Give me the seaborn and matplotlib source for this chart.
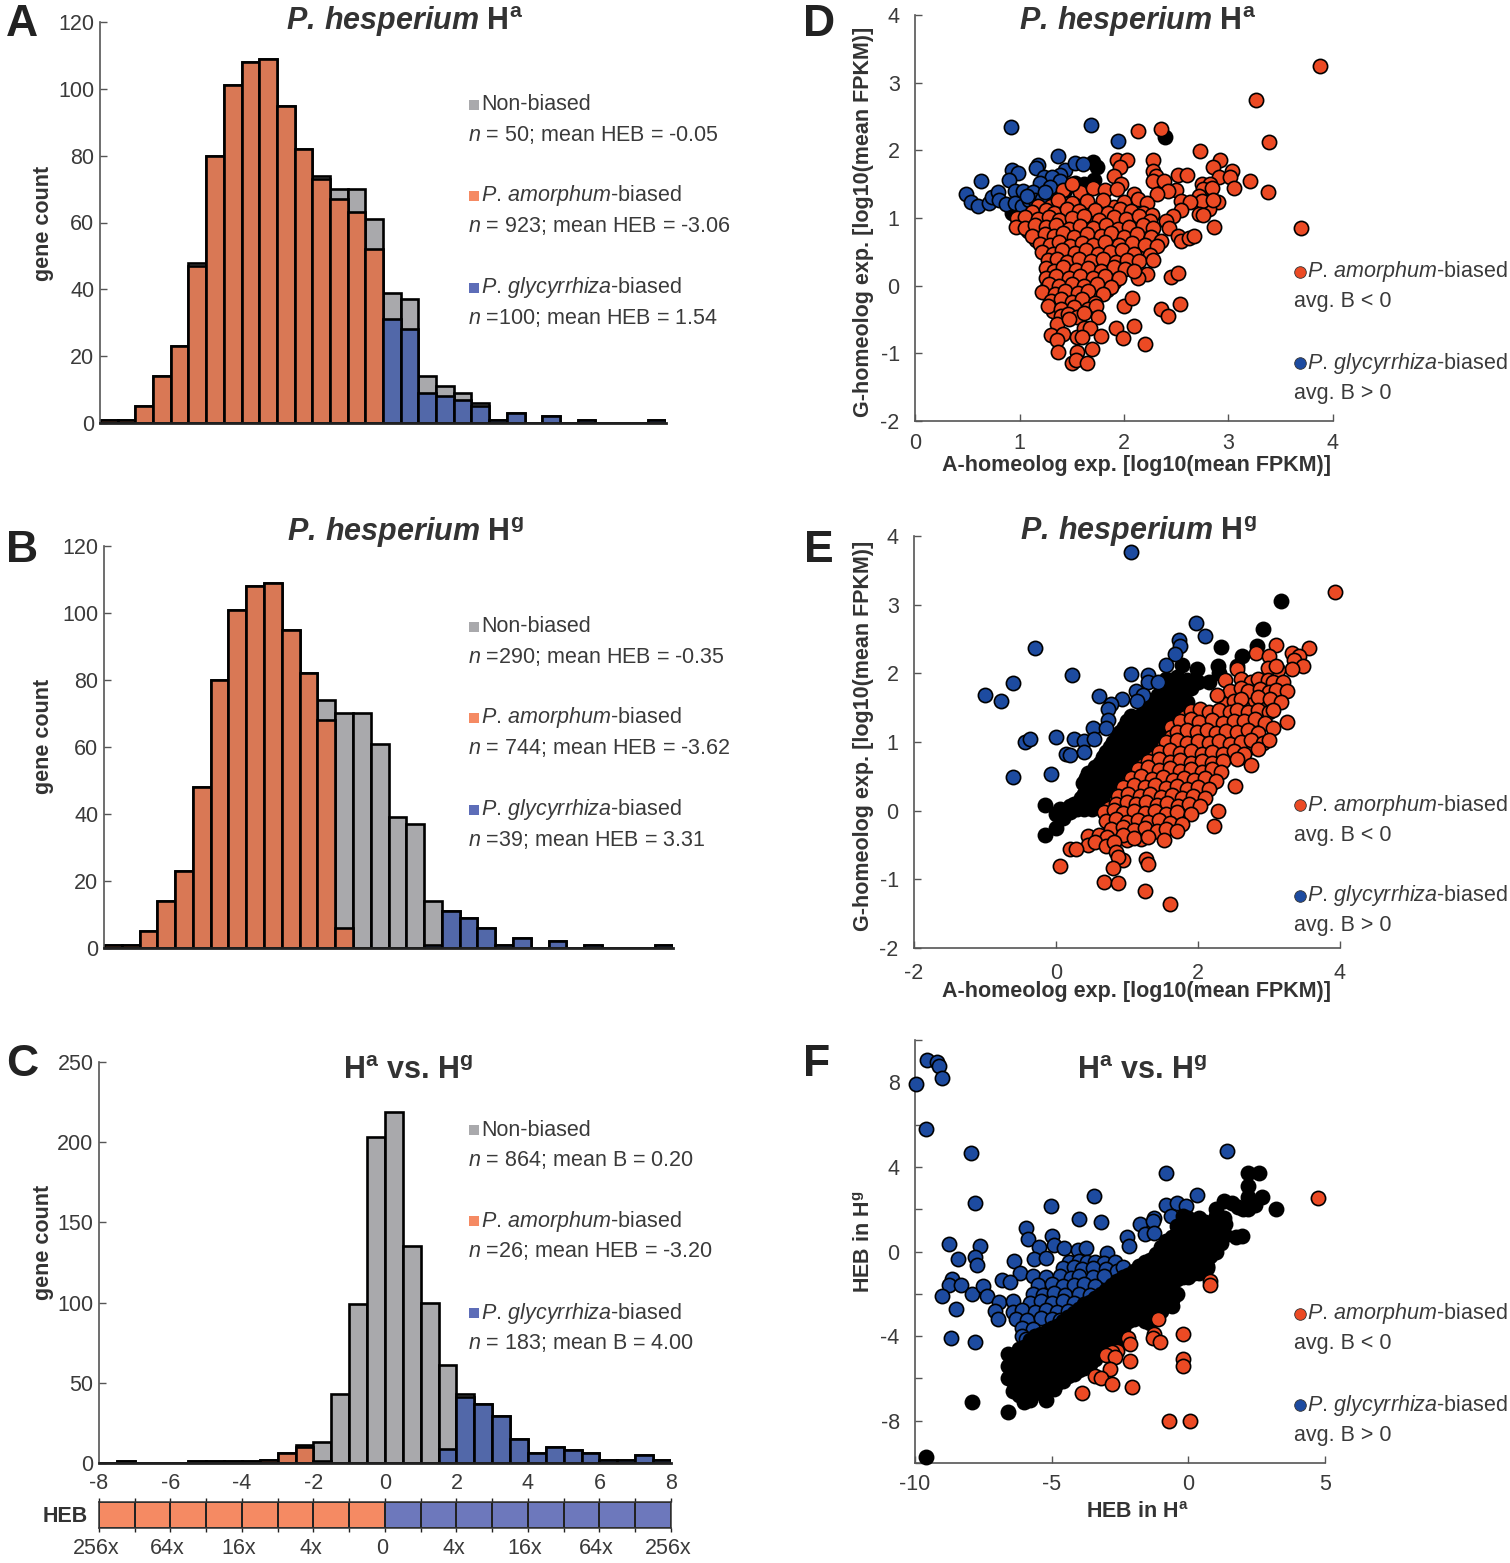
import numpy as np
import matplotlib
matplotlib.use("Agg")
import matplotlib.pyplot as plt
import seaborn as sns

sns.set_theme(style="ticks")
plt.rcParams["font.family"] = ["Liberation Sans", "DejaVu Sans"]
plt.rcParams["mathtext.fontset"] = "custom"
plt.rcParams["mathtext.rm"] = "Liberation Sans"
plt.rcParams["mathtext.it"] = "Liberation Sans:italic"
plt.rcParams["mathtext.bf"] = "Liberation Sans:bold"
plt.rcParams["mathtext.bfit"] = "Liberation Sans:italic:bold"
plt.rcParams["axes.unicode_minus"] = False

W, H = 1510, 1563

# histogram bins, HEB from -8 to 8 in steps of 0.5
bin_edges = [v / 2 for v in range(-16, 17)]
bin_centers = [v / 2 + 0.25 for v in range(-16, 16)]

a_total = [1, 1, 5, 14, 23, 48, 80, 101, 108, 109, 95, 82, 74, 70, 70, 61,
           39, 37, 14, 11, 9, 6, 1, 3, 0, 2, 0, 1, 0, 0, 0, 1]
a_orange = [1, 1, 5, 14, 23, 47, 80, 101, 108, 109, 95, 82, 73, 67, 63, 52,
            0, 0, 0, 0, 0, 0, 0, 0, 0, 0, 0, 0, 0, 0, 0, 0]
a_blue = [0, 0, 0, 0, 0, 0, 0, 0, 0, 0, 0, 0, 0, 0, 0, 0,
          31, 28, 9, 8, 7, 5, 1, 3, 0, 2, 0, 1, 0, 0, 0, 1]

b_total = a_total
b_orange = [1, 1, 5, 14, 23, 48, 80, 101, 108, 109, 95, 82, 68, 6, 0, 0,
            0, 0, 0, 0, 0, 0, 0, 0, 0, 0, 0, 0, 0, 0, 0, 0]
b_blue = [0, 0, 0, 0, 0, 0, 0, 0, 0, 0, 0, 0, 0, 0, 0, 0,
          0, 0, 1, 11, 9, 6, 1, 3, 0, 2, 0, 1, 0, 0, 0, 1]

c_total = [0, 1, 0, 0, 0, 1, 1, 1, 1, 2, 6, 11, 13, 43, 99, 203,
           219, 135, 100, 61, 43, 37, 29, 15, 6, 10, 8, 6, 2, 2, 5, 2]
c_orange = [0, 1, 0, 0, 0, 1, 1, 1, 1, 2, 6, 10, 1, 0, 0, 0,
            0, 0, 0, 0, 0, 0, 0, 0, 0, 0, 0, 0, 0, 0, 0, 0]
c_blue = [0, 0, 0, 0, 0, 0, 0, 0, 0, 0, 0, 0, 0, 0, 0, 0,
          0, 0, 0, 9, 41, 37, 29, 15, 6, 10, 8, 6, 2, 2, 5, 2]

heb_side = [0] * 8 + [1] * 8
heb_labels = ["256x", "64x", "16x", "4x", "0", "4x", "16x", "64x", "256x"]

# panel D
d_blue = [(.92, 2.34), (1.68, 2.37), (1.94, 2.14), (1.37, 1.92), (.93, 1.71), (.99, 1.67), (1.18, 1.79),
          (1.16, 1.74), (.63, 1.54), (.9, 1.56), (1.44, 1.71), (1.53, 1.81), (1.61, 1.8), (1.39, 1.64),
          (1.23, 1.6), (1.31, 1.61), (1.2, 1.52), (1.39, 1.55), (1.29, 1.46), (.49, 1.35), (.54, 1.24),
          (.6, 1.18), (.71, 1.22), (.74, 1.31), (.79, 1.39), (.8, 1.27), (.87, 1.2), (.96, 1.4),
          (1.03, 1.4), (1.13, 1.39), (.96, 1.22), (1.02, 1.17), (1.09, 1.27), (1.15, 1.27), (1.22, 1.28),
          (1.24, 1.39), (1.07, 1.32)]
d_black = [(2.39, 2.2), (1.7, 1.83), (1.74, 1.76), (1.71, 1.56), (1.53, 1.51), (1.44, 1.41), (1.35, 1.41),
           (1.35, 1.32), (.93, 1.07), (1.0, 1.0), (1.62, 1.5)]
d_orange = [(3.88, 3.25), (3.26, 2.74), (3.39, 2.13), (2.35, 2.31), (2.13, 2.29), (2.73, 1.99), (2.92, 1.85),
            (2.85, 1.76), (3.03, 1.69), (2.91, 1.61), (3.01, 1.6), (3.05, 1.44), (3.21, 1.54), (3.38, 1.38),
            (3.69, .85), (2.86, .86), (2.9, 1.24), (2.81, 1.13), (1.93, 1.86), (2.03, 1.86), (1.96, 1.75),
            (2.28, 1.86), (2.28, 1.7), (2.31, 1.62), (1.9, 1.62), (2.52, 1.63), (2.6, 1.63), (2.28, 1.55),
            (2.38, 1.55), (1.97, 1.5), (2.75, 1.5), (2.82, 1.5), (2.76, 1.43), (2.84, 1.45), (2.5, 1.42),
            (2.42, 1.4), (2.32, 1.35), (2.72, 1.33), (2.75, 1.25), (2.85, 1.27), (2.55, 1.25), (2.63, 1.24),
            (2.72, 1.06), (2.76, 1.05), (2.55, 1.12), (2.47, 1.03), (2.4, .95), (2.43, .85), (2.52, .74),
            (2.55, .66), (2.62, .7), (2.67, .73),
            (1.42, 1.41), (1.58, 1.39), (1.7, 1.45), (1.82, 1.42), (1.93, 1.43), (2.1, 1.36), (1.5, 1.5),
            (1.37, 1.27), (1.5, 1.22), (1.65, 1.25), (1.8, 1.27), (2.0, 1.24), (2.13, 1.28), (2.22, 1.22),
            (1.12, 1.09), (1.25, 1.12), (1.33, 1.08), (1.45, 1.13), (1.57, 1.1), (1.72, 1.12), (1.85, 1.08),
            (1.96, 1.14), (2.07, 1.1), (2.18, 1.07), (2.27, 1.05), (.98, 1.0), (1.05, 1.01), (1.18, .98),
            (1.28, 1.02), (1.38, .97), (1.5, 1.0), (1.62, 1.03), (1.76, .97), (1.9, 1.01), (2.02, .98),
            (2.14, 1.03), (2.25, .96), (.97, .87), (1.05, .85), (1.15, .89), (1.25, .86), (1.35, .9),
            (1.47, .84), (1.58, .88), (1.7, .85), (1.83, .9), (1.94, .84), (2.05, .87), (2.18, .89),
            (2.28, .85), (1.12, .73), (1.24, .77), (1.33, .73), (1.42, .78), (1.52, .72), (1.65, .76),
            (1.78, .73), (1.88, .78), (2.0, .72), (2.12, .76), (2.26, .72), (2.35, .66), (1.2, .62),
            (1.29, .6), (1.38, .65), (1.48, .59), (1.6, .63), (1.7, .6), (1.82, .65), (1.95, .6),
            (2.08, .63), (2.2, .6), (2.32, .58), (1.22, .5), (1.32, .47), (1.41, .52), (1.53, .48),
            (1.64, .52), (1.75, .47), (1.87, .5), (1.98, .53), (2.1, .47), (2.25, .46), (1.27, .38),
            (1.36, .4), (1.45, .35), (1.57, .39), (1.68, .36), (1.8, .4), (1.92, .35), (2.03, .38),
            (2.14, .37), (2.28, .38), (1.25, .26), (1.33, .22), (1.42, .27), (1.54, .23), (1.66, .26),
            (1.78, .22), (1.9, .27), (2.01, .24), (1.25, .12), (1.35, .15), (1.47, .11), (1.58, .14),
            (1.7, .11), (1.82, .15), (1.95, .12), (1.28, .02), (1.38, -.01), (1.5, .03), (1.62, .0),
            (1.74, .03), (1.88, -.02), (1.22, -.1), (1.34, -.12), (1.44, -.08), (1.56, -.11), (1.66, -.08),
            (1.8, -.12), (1.3, -.22), (1.4, -.2), (1.5, -.24), (1.6, -.2), (1.72, -.26), (1.27, -.3),
            (1.4, -.35), (1.52, -.32), (1.66, -.35), (1.73, -.3), (1.4, -.45), (1.46, -.42), (1.55, -.47),
            (1.62, -.4), (1.75, -.46), (1.36, -.57), (1.47, -.5), (1.3, -.73), (1.42, -.71), (1.36, -.8),
            (1.55, -.76), (1.62, -.63), (1.67, -.62), (1.6, -.76), (1.78, -.74), (1.92, -.63), (2.1, -.6),
            (1.99, -.77), (2.2, -.86), (1.37, -.98), (1.55, -.98), (1.69, -.93), (1.5, -1.15), (1.54, -1.1),
            (1.65, -1.15), (2.0, -.3), (2.08, -.18), (2.35, -.35), (2.42, -.45), (2.54, -.27), (2.45, .13),
            (2.52, .19), (2.22, .17), (2.13, .12), (2.1, .22)]
d_orange_more = [(1.18, 1.17), (1.3, 1.18), (1.42, 1.16), (1.53, 1.18), (1.66, 1.17), (1.78, 1.18), (1.9, 1.16),
                 (2.03, 1.18), (2.16, 1.16), (1.02, .94), (1.1, .93), (1.22, .95), (1.33, .93), (1.44, .95),
                 (1.56, .93), (1.68, .95), (1.82, .93), (1.96, .95), (2.08, .93), (2.2, .95), (1.08, .81),
                 (1.2, .8), (1.3, .82), (1.4, .8), (1.52, .82), (1.64, .8), (1.76, .82), (1.88, .8), (2.0, .82),
                 (2.13, .8), (2.24, .82), (1.16, .68), (1.25, .67), (1.35, .69), (1.45, .67), (1.56, .69),
                 (1.67, .67), (1.8, .69), (1.92, .67), (2.04, .69), (2.16, .67), (2.3, .68), (1.25, .56),
                 (1.35, .55), (1.44, .57), (1.55, .55), (1.66, .57), (1.77, .55), (1.9, .57), (2.02, .55),
                 (2.14, .57), (2.27, .55), (1.27, .44), (1.37, .43), (1.48, .45), (1.6, .43), (1.71, .45),
                 (1.83, .43), (1.95, .45), (2.06, .43), (2.18, .45), (1.3, .32), (1.4, .31), (1.5, .33),
                 (1.62, .31), (1.74, .33), (1.86, .31), (1.97, .33), (2.09, .31), (1.3, .19), (1.38, .18),
                 (1.5, .2), (1.6, .18), (1.72, .2), (1.85, .18), (1.96, .2), (1.3, .07), (1.42, .06), (1.54, .08),
                 (1.66, .06), (1.78, .08), (1.9, .06), (1.25, -.05), (1.33, -.06), (1.46, -.04), (1.58, -.06),
                 (1.7, -.04), (1.84, -.06), (1.28, -.16), (1.38, -.17), (1.48, -.15), (1.6, -.17), (1.72, -.15),
                 (1.34, -.28), (1.46, -.29), (1.57, -.27), (1.68, -.29), (1.32, -.38), (1.46, -.39), (1.58, -.37)]

# panel E
e_blue = [(1.05, 3.76), (1.97, 2.74), (2.1, 2.55), (1.73, 2.48), (1.75, 2.4), (1.68, 2.28), (-.3, 2.37),
          (1.55, 2.12), (.22, 1.97), (1.05, 1.99), (1.3, 1.97), (1.3, 1.88), (1.44, 1.88), (-.6, 1.86),
          (-1.0, 1.69), (-.78, 1.6), (.6, 1.67), (.93, 1.63), (1.13, 1.75), (1.23, 1.68), (1.14, 1.6),
          (.78, 1.55), (.73, 1.48), (.73, 1.32), (.52, 1.2), (.7, 1.2), (.0, 1.08), (.25, 1.04),
          (.4, 1.02), (.53, 1.04), (-.43, 1.0), (-.37, 1.04), (.14, .82), (.2, .81), (.4, .85),
          (-.07, .53), (-.6, .49)]
e_black = [(3.17, 3.06), (2.92, 2.64), (2.83, 2.4), (2.33, 2.38), (2.62, 2.25), (1.77, 2.12), (1.98, 2.06),
           (2.28, 2.1), (2.55, 2.1), (2.3, 2.0), (1.55, 1.92), (1.7, 1.95), (1.85, 1.9), (2.0, 1.88),
           (2.15, 1.88), (1.5, 1.75), (1.65, 1.78), (1.78, 1.74), (1.9, 1.78), (1.35, 1.6), (1.5, 1.62),
           (1.62, 1.6), (1.75, 1.63), (1.85, 1.58), (1.25, 1.45), (1.38, 1.48), (1.5, 1.44), (1.62, 1.47),
           (1.75, 1.43), (1.0, 1.3), (1.12, 1.33), (1.25, 1.29), (1.38, 1.32), (1.5, 1.28), (1.62, 1.3),
           (.9, 1.15), (1.02, 1.18), (1.15, 1.14), (1.28, 1.17), (1.4, 1.13), (1.5, 1.16), (.8, 1.0),
           (.95, 1.03), (1.05, .99), (1.18, 1.02), (1.3, .98), (1.4, 1.01), (.7, .85), (.82, .88),
           (.95, .84), (1.08, .87), (1.2, .83), (1.3, .86), (.62, .7), (.72, .73), (.85, .69), (.98, .72),
           (1.1, .68), (1.2, .71), (.45, .55), (.55, .58), (.67, .54), (.8, .57), (.92, .53), (1.02, .56),
           (.38, .4), (.5, .43), (.6, .39), (.72, .42), (.85, .38), (.4, .25), (.5, .28), (.6, .24),
           (.7, .27), (.8, .23), (.25, .1), (.35, .13), (.45, .09), (.55, .12), (.65, .08), (.05, .03),
           (.2, -.02), (.3, .02), (-.15, .08), (.0, -.05), (.0, -.25), (-.15, -.35), (.08, .0),
           (1.58, 1.85), (1.72, 1.85), (1.43, 1.68), (1.57, 1.7), (1.7, 1.7), (1.3, 1.53), (1.44, 1.55),
           (1.56, 1.53), (1.68, 1.55), (1.8, 1.52), (1.06, 1.38), (1.2, 1.4), (1.32, 1.38), (1.44, 1.38),
           (1.56, 1.38), (1.68, 1.4), (.96, 1.22), (1.08, 1.24), (1.22, 1.22), (1.34, 1.22), (1.45, 1.22),
           (1.56, 1.22), (.86, 1.08), (1.0, 1.08), (1.12, 1.08), (1.24, 1.08), (1.36, 1.08), (1.46, 1.08),
           (.76, .93), (.88, .93), (1.02, .93), (1.14, .93), (1.25, .93), (1.36, .93), (.66, .78), (.78, .78),
           (.9, .78), (1.02, .78), (1.15, .78), (1.26, .78), (.55, .63), (.66, .63), (.78, .63), (.9, .63),
           (1.02, .63), (1.12, .63), (.42, .48), (.52, .48), (.65, .48), (.75, .48), (.88, .48), (.98, .48),
           (.45, .33), (.55, .33), (.66, .33), (.77, .33), (.35, .18), (.45, .18), (.55, .18), (.66, .18),
           (.75, .18), (.3, .05), (.4, .03), (.5, .03), (.2, .07), (.1, -.1)]
e_orange = [(3.93, 3.18), (3.57, 2.37), (3.32, 2.3), (3.42, 2.25), (3.1, 2.41), (2.82, 2.29), (3.0, 2.25),
            (3.35, 2.2), (3.48, 2.1), (3.33, 2.07), (3.13, 2.05), (2.98, 2.08), (2.55, 2.06), (3.1, 2.1),
            (2.38, 1.9), (2.6, 1.92), (2.75, 1.88), (2.85, 1.92), (2.98, 1.9), (3.05, 1.87), (3.2, 1.88),
            (2.45, 1.75), (2.6, 1.78), (2.7, 1.74), (2.88, 1.77), (3.0, 1.73), (3.1, 1.76), (3.25, 1.74),
            (2.27, 1.68), (2.5, 1.6), (2.6, 1.63), (2.85, 1.66), (3.02, 1.62), (3.17, 1.58), (1.9, 1.45),
            (2.03, 1.48), (2.15, 1.44), (2.3, 1.47), (2.45, 1.43), (2.55, 1.46), (2.7, 1.44), (2.85, 1.47),
            (3.0, 1.43), (3.05, 1.47), (1.75, 1.3), (1.9, 1.33), (2.02, 1.29), (2.2, 1.32), (2.35, 1.28),
            (2.5, 1.31), (2.65, 1.3), (2.8, 1.33), (2.95, 1.28), (3.25, 1.29), (1.7, 1.15), (1.85, 1.18),
            (1.98, 1.14), (2.12, 1.17), (2.25, 1.13), (2.4, 1.16), (2.55, 1.14), (2.7, 1.17), (2.85, 1.13),
            (3.05, 1.2), (1.55, 1.0), (1.7, 1.03), (1.85, .99), (2.0, 1.02), (2.15, .98), (2.3, 1.01),
            (2.45, .97), (2.6, 1.0), (2.75, 1.03), (2.92, .98), (3.0, 1.03), (1.45, .85), (1.6, .88),
            (1.75, .84), (1.9, .87), (2.05, .83), (2.2, .86), (2.35, .82), (2.5, .87), (2.65, .83),
            (2.85, .9), (1.3, .72), (1.45, .75), (1.6, .71), (1.75, .74), (1.9, .7), (2.05, .73), (2.2, .69),
            (2.35, .73), (2.55, .75), (1.15, .6), (1.3, .63), (1.45, .59), (1.6, .62), (1.75, .58),
            (1.9, .61), (2.05, .57), (2.2, .6), (2.33, .57), (2.75, .66), (1.05, .47), (1.2, .5), (1.35, .46),
            (1.5, .49), (1.65, .45), (1.8, .48), (1.95, .44), (2.1, .47), (2.25, .43), (.95, .35), (1.1, .38),
            (1.25, .34), (1.4, .37), (1.55, .33), (1.7, .36), (1.85, .32), (2.0, .35), (2.15, .32),
            (2.52, .36), (.88, .22), (1.02, .25), (1.18, .21), (1.33, .24), (1.48, .2), (1.63, .23),
            (1.78, .19), (1.93, .22), (2.1, .18), (.85, .1), (1.0, .13), (1.12, .09), (1.27, .12), (1.42, .08),
            (1.57, .11), (1.72, .07), (1.87, .1), (2.03, .07), (.68, -.02), (.82, .01), (.95, -.03),
            (1.1, .0), (1.25, -.04), (1.4, -.01), (1.55, -.05), (1.7, -.02), (1.9, -.05), (2.28, .0),
            (.7, -.15), (.85, -.12), (1.0, -.16), (1.15, -.13), (1.3, -.17), (1.45, -.14), (1.6, -.18),
            (1.78, -.2), (.78, -.27), (.95, -.24), (1.1, -.28), (1.25, -.25), (1.42, -.29), (1.55, -.26),
            (1.7, -.3), (2.22, -.22), (.45, -.37), (.6, -.35), (.72, -.39), (.95, -.36), (1.1, -.4),
            (1.3, -.38), (1.52, -.42), (.45, -.5), (.55, -.46), (.7, -.52), (.2, -.56), (.28, -.56),
            (.82, -.45), (.85, -.6), (.95, -.72), (.88, -.68), (.8, -.83), (1.27, -.7), (1.3, -.77),
            (.05, -.8), (.68, -1.04), (.87, -1.05), (1.25, -1.17), (1.6, -1.36)]
e_orange_more = [(1.82, 1.37), (1.97, 1.38), (2.1, 1.36), (2.27, 1.38), (2.42, 1.36), (2.58, 1.38), (2.72, 1.36),
                 (2.88, 1.38), (1.62, 1.22), (1.78, 1.23), (1.92, 1.21), (2.06, 1.23), (2.18, 1.21), (2.32, 1.23),
                 (2.47, 1.21), (2.62, 1.23), (2.78, 1.21), (1.62, 1.07), (1.78, 1.08), (1.92, 1.06), (2.08, 1.08),
                 (2.22, 1.06), (2.38, 1.08), (2.52, 1.06), (2.68, 1.08), (2.84, 1.06), (1.5, .92), (1.65, .93),
                 (1.8, .91), (1.95, .93), (2.1, .91), (2.25, .93), (2.4, .91), (2.55, .93), (2.7, .91), (1.38, .78),
                 (1.52, .79), (1.68, .77), (1.82, .79), (1.98, .77), (2.12, .79), (2.28, .77), (2.42, .79),
                 (2.58, .77), (1.22, .66), (1.38, .67), (1.52, .65), (1.68, .67), (1.82, .65), (1.98, .67),
                 (2.12, .65), (2.28, .67), (1.12, .53), (1.28, .54), (1.42, .52), (1.58, .54), (1.72, .52),
                 (1.88, .54), (2.02, .52), (2.18, .54), (1.02, .41), (1.18, .42), (1.32, .4), (1.48, .42),
                 (1.62, .4), (1.78, .42), (1.92, .4), (2.08, .42), (2.2, .4), (.92, .28), (1.08, .29), (1.25, .27),
                 (1.4, .29), (1.55, .27), (1.7, .29), (1.85, .27), (2.02, .29), (.85, .16), (.95, .17), (1.08, .15),
                 (1.2, .17), (1.35, .15), (1.5, .17), (1.65, .15), (1.8, .17), (1.95, .15), (.75, .04), (.92, .05),
                 (1.05, .03), (1.2, .05), (1.35, .03), (1.48, .05), (1.62, .03), (1.8, .05), (.72, -.08), (.9, -.07),
                 (1.05, -.09), (1.18, -.07), (1.32, -.09), (1.48, -.07), (1.65, -.09), (.75, -.2), (.92, -.19),
                 (1.08, -.21), (1.22, -.19), (1.38, -.21), (1.52, -.19), (1.68, -.21), (.85, -.32), (1.02, -.31),
                 (1.18, -.33), (1.34, -.31), (1.48, -.33), (.58, -.42), (.65, -.43), (.82, -.41), (1.0, -.43),
                 (1.2, -.41), (2.65, 1.7), (2.78, 1.82), (2.95, 1.82), (3.08, 1.67), (2.72, 1.58), (2.93, 1.55),
                 (2.4, 1.55), (2.62, 1.52)]

# panel F
f_blue = [(-9.95, 7.93), (-9.56, 9.07), (-9.2, 8.96), (-9.12, 8.77), (-9.0, 8.2), (-9.58, 5.8), (-7.94, 4.67),
          (-7.8, 2.29), (1.4, 4.76), (-.8, 3.72), (.32, 2.68), (-3.46, 2.62), (-5.03, 2.13), (-.8, 2.2),
          (-.4, 2.29), (-.1, 2.14), (-.64, 1.7), (-3.99, 1.55), (-3.18, 1.39), (-1.76, 1.28), (-1.25, 1.58),
          (-1.3, 1.42), (-5.93, 1.12), (-5.86, .6), (-1.6, .84), (-1.25, .88), (-2.26, .68), (-2.18, .28),
          (-8.75, .36), (-7.64, .27), (-8.43, -.35), (-7.8, -.24), (-7.72, -.66), (-4.97, .71), (-4.93, .33),
          (-5.47, .2), (-5.64, -.35), (-5.2, -.3), (-6.38, -.43), (-6.15, -1.03), (-4.54, .16), (-4.04, .05),
          (-3.73, .17), (-2.97, -.06), (-8.63, -1.3), (-8.75, -1.58), (-8.31, -1.6), (-9.0, -2.1),
          (-7.92, -2.03), (-7.53, -1.64), (-7.36, -2.1), (-8.5, -2.7), (-8.68, -4.08), (-7.8, -4.26),
          (-6.82, -1.37), (-6.54, -1.45), (-6.94, -2.37), (-7.08, -2.8), (-6.98, -3.19), (-4.35, -.5),
          (-4.0, -.45), (-3.7, -.52), (-3.4, -.48), (-3.1, -.55), (-2.7, -.5), (-4.6, -.8), (-4.2, -.75),
          (-3.9, -.85), (-3.5, -.8), (-3.0, -.85), (-2.6, -.9), (-2.4, -.75), (-5.7, -1.15), (-5.2, -1.2),
          (-4.7, -1.15), (-4.3, -1.25), (-4.0, -1.15), (-3.5, -1.2), (-3.1, -1.15), (-5.5, -1.6), (-5.0, -1.55),
          (-4.6, -1.65), (-4.2, -1.6), (-3.8, -1.55), (-3.4, -1.65), (-5.7, -2.0), (-5.3, -2.05), (-4.9, -1.95),
          (-4.5, -2.05), (-4.0, -2.0), (-3.6, -2.05), (-6.4, -2.35), (-5.8, -2.45), (-5.4, -2.35), (-5.0, -2.45),
          (-4.6, -2.35), (-4.2, -2.45), (-6.4, -2.85), (-6.1, -2.75), (-5.6, -2.85), (-5.2, -2.75), (-4.8, -2.85),
          (-4.4, -2.8), (-6.3, -3.2), (-5.9, -3.25), (-5.4, -3.15), (-5.0, -3.2), (-4.7, -3.25), (-6.1, -3.6),
          (-5.7, -3.65), (-6.1, -4.0), (-5.95, -4.15)]
f_black = [(-6.6, -4.85), (-6.6, -5.4), (-6.6, -6.0), (-6.2, -4.6), (-6.2, -5.2), (-6.2, -5.8), (-6.2, -6.3),
           (-6.2, -6.8), (-5.8, -4.2), (-5.8, -4.8), (-5.8, -5.3), (-5.8, -5.9), (-5.8, -6.4), (-5.8, -7.0),
           (-5.4, -3.9), (-5.4, -4.5), (-5.4, -5.1), (-5.4, -5.6), (-5.4, -6.2), (-5.4, -6.6), (-5.0, -3.6),
           (-5.0, -4.1), (-5.0, -4.7), (-5.0, -5.2), (-5.0, -5.8), (-5.0, -6.4), (-5.2, -7.0), (-4.6, -3.3),
           (-4.6, -3.8), (-4.6, -4.4), (-4.6, -5.0), (-4.6, -5.6), (-4.6, -6.1), (-4.9, -6.5), (-4.2, -2.9),
           (-4.2, -3.5), (-4.2, -4.0), (-4.2, -4.6), (-4.2, -5.2), (-4.2, -5.8), (-3.8, -2.5), (-3.8, -3.1),
           (-3.8, -3.7), (-3.8, -4.3), (-3.8, -4.9), (-3.8, -5.5), (-3.4, -2.2), (-3.4, -2.7), (-3.4, -3.3),
           (-3.4, -3.9), (-3.4, -4.5), (-3.4, -5.1), (-3.0, -1.8), (-3.0, -2.4), (-3.0, -2.9), (-3.0, -3.5),
           (-3.0, -4.1), (-3.0, -4.6), (-2.6, -1.4), (-2.6, -2.0), (-2.6, -2.6), (-2.6, -3.2), (-2.6, -3.8),
           (-2.6, -4.3), (-2.2, -1.1), (-2.2, -1.6), (-2.2, -2.2), (-2.2, -2.8), (-2.2, -3.3), (-1.8, -.7),
           (-1.8, -1.2), (-1.8, -1.8), (-1.8, -2.4), (-1.8, -3.0), (-1.4, -.4), (-1.4, -.9), (-1.4, -1.5),
           (-1.4, -2.1), (-1.4, -2.7), (-1.4, -3.4), (-1.0, .2), (-1.0, -.4), (-1.0, -1.0), (-1.0, -1.6),
           (-1.0, -2.2), (-1.0, -2.8), (-.6, .7), (-.6, .2), (-.6, -.4), (-.6, -1.0), (-.6, -1.6), (-.6, -2.3),
           (-.2, 1.7), (-.2, 1.1), (-.2, .6), (-.2, .0), (-.2, -.6), (-.2, -1.2), (.2, 1.3), (.2, .8), (.2, .2),
           (.2, -.4), (.2, -1.0), (.6, 1.4), (.6, 1.0), (.6, .4), (.6, -.2), (1.0, 1.5), (1.0, 1.0), (1.0, .5),
           (1.0, .0), (.4, 1.6), (1.0, 1.7), (1.3, 1.6), (1.35, 1.3), (1.35, .8), (1.75, .7), (1.95, .75),
           (1.0, 2.0), (1.3, 2.4), (1.6, 2.3), (1.8, 2.1), (2.0, 2.0), (2.2, 2.0), (2.2, 2.6), (2.2, 3.1),
           (2.2, 3.7), (2.6, 3.7), (2.7, 2.6), (3.2, 2.0), (2.45, 2.2), (-7.9, -7.1), (-6.6, -7.6), (-9.6, -9.7),
           (.7, -.7), (.7, -.8), (-1.1, -2.8), (-.4, -2.0), (-.6, -2.6)]
f_black_more = [(-6.4, -5.1), (-6.4, -5.6), (-6.4, -6.1), (-6.4, -6.6), (-6.0, -4.5), (-6.0, -5.0), (-6.0, -5.6),
                (-6.0, -6.1), (-6.0, -6.7), (-6.0, -7.1), (-5.6, -4.0), (-5.6, -4.5), (-5.6, -5.1), (-5.6, -5.6),
                (-5.6, -6.2), (-5.6, -6.7), (-5.2, -3.8), (-5.2, -4.4), (-5.2, -4.9), (-5.2, -5.5), (-5.2, -6.0),
                (-5.2, -6.5), (-4.8, -3.5), (-4.8, -4.0), (-4.8, -4.6), (-4.8, -5.2), (-4.8, -5.8), (-4.8, -6.2),
                (-4.4, -3.1), (-4.4, -3.6), (-4.4, -4.2), (-4.4, -4.8), (-4.4, -5.4), (-4.4, -5.9), (-4.0, -2.7),
                (-4.0, -3.3), (-4.0, -3.8), (-4.0, -4.4), (-4.0, -5.0), (-4.0, -5.6), (-3.6, -2.4), (-3.6, -2.9),
                (-3.6, -3.5), (-3.6, -4.1), (-3.6, -4.7), (-3.6, -5.3), (-3.2, -2.0), (-3.2, -2.6), (-3.2, -3.2),
                (-3.2, -3.8), (-3.2, -4.3), (-3.2, -4.8), (-2.8, -1.6), (-2.8, -2.2), (-2.8, -2.8), (-2.8, -3.4),
                (-2.8, -3.9), (-2.8, -4.4), (-2.4, -1.2), (-2.4, -1.8), (-2.4, -2.4), (-2.4, -3.0), (-2.4, -3.6),
                (-2.0, -.9), (-2.0, -1.4), (-2.0, -2.0), (-2.0, -2.6), (-2.0, -3.2), (-1.6, -.5), (-1.6, -1.0),
                (-1.6, -1.6), (-1.6, -2.2), (-1.6, -2.8), (-1.6, -3.3), (-1.2, -.1), (-1.2, -.7), (-1.2, -1.2),
                (-1.2, -1.8), (-1.2, -2.5), (-1.2, -3.0), (-.8, .5), (-.8, -.1), (-.8, -.7), (-.8, -1.3),
                (-.8, -1.9), (-.8, -2.4), (-.4, 1.2), (-.4, .5), (-.4, -.1), (-.4, -.7), (-.4, -1.3), (.0, 1.6),
                (.0, 1.1), (.0, .5), (.0, -.1), (.0, -.7), (.0, -1.2), (.4, 1.2), (.4, .6), (.4, .1), (.4, -.5),
                (.4, -1.0), (.8, 1.3), (.8, .8), (.8, .3), (.8, -.2), (1.2, 1.2), (1.2, .8), (1.2, .4)]
f_orange = [(4.75, 2.55), (.8, -1.4), (.8, -1.6), (-1.1, -3.2), (-1.25, -3.9), (-1.3, -4.1), (-1.05, -4.3),
            (-.2, -3.9), (-2.2, -4.1), (-2.15, -4.35), (-2.6, -4.7), (-2.8, -4.75), (-3.0, -4.9), (-2.7, -5.0),
            (-2.15, -5.2), (-2.85, -5.55), (-.2, -5.1), (-.2, -5.4), (-3.4, -5.9), (-3.2, -6.0), (-2.8, -6.25),
            (-2.05, -6.4), (-3.9, -6.7), (-.7, -8.0), (.05, -8.0)]

BAR_ORANGE = "#D97855"
BAR_BLUE = "#5268A9"
BAR_GREY = "#A9A9AC"
KEY_ORANGE = "#F58A63"
KEY_BLUE = "#5D6DB8"
DOT_ORANGE = "#EC4A24"
DOT_BLUE = "#1D4BA0"
AXIS = "#555555"
TXT = "#3A3A3A"
TICK_SIZE = 15.5

fig = plt.figure(figsize=(W / 100, H / 100), dpi=100, facecolor="white")


def px_axes(x0, x1, ytop, ybot):
    return fig.add_axes([x0 / W, 1 - ybot / H, (x1 - x0) / W, (ybot - ytop) / H])


def style(ax, ypad, xpad=7):
    sns.despine(ax=ax)
    for s in ["left", "bottom"]:
        ax.spines[s].set_color(AXIS)
        ax.spines[s].set_linewidth(1.2)
    ax.tick_params(direction="in", length=5, width=1, color=AXIS, labelcolor=TXT, labelsize=TICK_SIZE)
    ax.tick_params(axis="y", pad=ypad)
    ax.tick_params(axis="x", pad=xpad)
    ax.patch.set_alpha(0)


def hist_panel(box, total, orange, blue, ymax, yticks):
    ax = px_axes(*box)
    edge = dict(edgecolor="black", linewidth=1.9, alpha=1)
    sns.histplot(x=bin_centers, weights=total, bins=bin_edges, color=BAR_GREY, ax=ax, **edge)
    sns.histplot(x=bin_centers, weights=orange, bins=bin_edges, color=BAR_ORANGE, ax=ax, **edge)
    sns.histplot(x=bin_centers, weights=blue, bins=bin_edges, color=BAR_BLUE, ax=ax, **edge)
    ax.set_xlim(-8, 8)
    ax.set_ylim(0, ymax)
    ax.set_yticks(yticks)
    ax.set_xticks([])
    ax.set_xlabel("")
    ax.set_ylabel("")
    style(ax, 4)
    # black floor under the empty bins
    ax.spines["bottom"].set_color("#222222")
    ax.spines["bottom"].set_linewidth(2)
    ax.spines["bottom"].set_zorder(5)
    return ax


def scatter_panel(box, layers, xlim, ylim, xticks, yticks, xpad):
    ax = px_axes(*box)
    for pts, col in layers:
        xs, ys = zip(*pts)
        sns.scatterplot(x=list(xs), y=list(ys), color=col, edgecolor="black", linewidth=1.2,
                        s=105, ax=ax, clip_on=False, legend=False, zorder=3)
    ax.set_xlim(*xlim)
    ax.set_ylim(*ylim)
    ax.set_xticks(xticks)
    ax.set_yticks(yticks)
    style(ax, 11, xpad)
    return ax


hist_panel((100, 666, 22, 423), a_total, a_orange, a_blue, 120, range(0, 121, 20))
hist_panel((104, 673, 546, 948), b_total, b_orange, b_blue, 120, range(0, 121, 20))
ax_c = hist_panel((99, 671, 1062, 1463), c_total, c_orange, c_blue, 250, range(0, 251, 50))
ax_c.set_xticks(range(-8, 9, 2))
ax_c.set_xticklabels([str(v) for v in range(-8, 9, 2)])
ax_c.tick_params(axis="x", length=0, pad=7)

# HEB colour strip
ax_heb = px_axes(99, 671, 1502, 1528)
sns.heatmap(np.array([heb_side]), cmap=[KEY_ORANGE, "#6D78BC"], cbar=False, linewidths=1.1,
            linecolor="#222222", ax=ax_heb, xticklabels=False, yticklabels=False)
for s in ax_heb.spines.values():
    s.set_visible(True)
    s.set_color("#333333")
    s.set_linewidth(1.1)
ax_heb.set_xticks(range(17))
ax_heb.tick_params(axis="x", top=True, bottom=True, labelbottom=False, length=3, width=1, color="#222222")

scatter_panel((915, 1333, 15, 421), [(d_black, "black"), (d_blue, DOT_BLUE), (d_orange_more, DOT_ORANGE), (d_orange, DOT_ORANGE)],
              (0, 4), (-2, 4), range(0, 5), range(-2, 5), 9)
scatter_panel((914, 1340, 536, 948), [(e_black, "black"), (e_blue, DOT_BLUE), (e_orange_more, DOT_ORANGE), (e_orange, DOT_ORANGE)],
              (-2, 4), (-2, 4), range(-2, 5, 2), range(-2, 5), 11)
ax_f = scatter_panel((915, 1325, 1040, 1463), [(f_blue, DOT_BLUE), (f_black_more, "black"), (f_black, "black"), (f_orange, DOT_ORANGE)],
                     (-10, 5), (-10, 10), [-10, -5, 0, 5], range(-10, 11, 2), 8)
ax_f.set_yticklabels(["" if v % 4 else str(v) for v in range(-10, 11, 2)])

# everything else goes on a pixel overlay
ov = fig.add_axes([0, 0, 1, 1], zorder=10)
ov.set_xlim(0, W)
ov.set_ylim(H, 0)
ov.axis("off")
ov.patch.set_alpha(0)


def put(x, y, s, size=TICK_SIZE, ha="left", color=TXT, weight="normal", rot=0):
    ov.text(x, y, s, fontsize=size, ha=ha, va="center", color=color, fontweight=weight,
            rotation=rot, clip_on=False)


for letter, x, y in [("A", 22, 24), ("B", 22, 551), ("C", 22, 1064), ("D", 819, 24), ("E", 819, 551), ("F", 817, 1064)]:
    put(x, y, letter, size=32, ha="center", color="#222222", weight="bold")

t_a = r"$\mathbfit{P.}\,\mathbfit{hesperium}\ \mathbf{H^{a}}$"
t_g = r"$\mathbfit{P.}\,\mathbfit{hesperium}\ \mathbf{H^{g}}$"
t_v = r"$\mathbf{H^{a}}$ vs. $\mathbf{H^{g}}$"
for x, y, s in [(405, 22, t_a), (405, 533, t_g), (408, 1071, t_v), (1138, 22, t_a), (1138, 532, t_g), (1142, 1071, t_v)]:
    put(x, y, s, size=22, ha="center", color="#333333", weight="bold")

for y in (223, 736, 1242):
    put(43, y, "gene count", size=15.5, ha="center", color="#333333", weight="bold", rot=90)
for y in (222, 736):
    put(864, y, "G-homeolog exp. [log10(mean FPKM)]", size=15.5, ha="center", color="#333333", weight="bold", rot=90)
put(864, 1242, r"HEB in $\mathbf{H^{g}}$", size=15.5, ha="center", color="#333333", weight="bold", rot=90)
for y in (466, 992):
    put(1137, y, "A-homeolog exp. [log10(mean FPKM)]", size=15.5, ha="center", color="#333333", weight="bold")
put(1137, 1512, r"HEB in $\mathbf{H^{a}}$", size=15.5, ha="center", color="#333333", weight="bold")

amor = r"$\mathit{P.}\,\mathit{amorphum}$-biased"
glyc = r"$\mathit{P.}\,\mathit{glycyrrhiza}$-biased"
n_a = ["= 50; mean HEB = -0.05", "= 923; mean HEB = -3.06", "=100; mean HEB = 1.54"]
n_b = ["=290; mean HEB = -0.35", "= 744; mean HEB = -3.62", "=39; mean HEB = 3.31"]
n_c = ["= 864; mean B = 0.20", "=26; mean HEB = -3.20", "= 183; mean B = 4.00"]
for y0, stats in [(105, n_a), (627, n_b), (1130, n_c)]:
    for dy, name, col, st in [(0, "Non-biased", BAR_GREY, stats[0]), (91, amor, KEY_ORANGE, stats[1]),
                              (183, glyc, KEY_BLUE, stats[2])]:
        ov.scatter([474], [y0 + dy], marker="s", s=52, color=col, linewidth=0, clip_on=False)
        put(481, y0 + dy, name)
        put(468, y0 + dy + 30, r"$\mathit{n}$ " + st)

for y0 in (272, 805, 1314):
    for dy, name, col, st in [(0, amor, DOT_ORANGE, "avg. B < 0"), (91, glyc, DOT_BLUE, "avg. B > 0")]:
        ov.scatter([1300], [y0 + dy], s=70, color=col, edgecolor="#333333", linewidth=0.6, clip_on=False)
        put(1307, y0 + dy, name)
        put(1294, y0 + dy + 30, st)

put(65, 1516, "HEB", size=15.5, ha="center", color="#333333", weight="bold")
for lab, v in zip(heb_labels, range(-8, 9, 2)):
    put(96 + (v + 8) * 572 / 16, 1549, lab, ha="center")

fig.savefig("out.png", dpi=100)
